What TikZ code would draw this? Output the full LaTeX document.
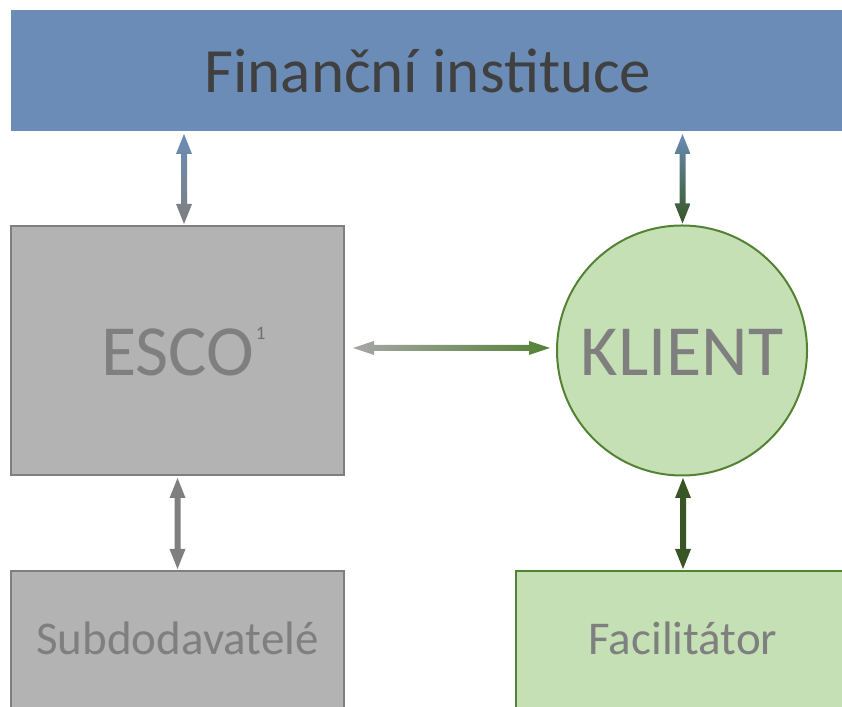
\documentclass[tikz,border=0pt]{standalone}
\usepackage{fontspec}
\setmainfont{Carlito}
\usetikzlibrary{calc}
\definecolor{finblue}{HTML}{6A8CB6}
\definecolor{titlegray}{HTML}{404040}
\definecolor{boxgray}{HTML}{B3B3B3}
\definecolor{linegray}{HTML}{7F7F7F}
\definecolor{supgray}{HTML}{707070}
\definecolor{lightgreen}{HTML}{C5E0B4}
\definecolor{midgreen}{HTML}{548235}
\definecolor{darkgreen}{HTML}{375623}
\definecolor{arrgray}{HTML}{A6A6A6}
\newcommand\vdarrow[3]{%
  \shade[#1] let \p1=(#2), \p2=(#3) in
    (\p1) -- (\x1+8pt,\y1-20pt) -- (\x1+3pt,\y1-20pt) -- (\x2+3pt,\y2+20pt)
    -- (\x2+8pt,\y2+20pt) -- (\p2) -- (\x2-8pt,\y2+20pt) -- (\x2-3pt,\y2+20pt)
    -- (\x1-3pt,\y1-20pt) -- (\x1-8pt,\y1-20pt) -- cycle;}
\newcommand\hdarrow[3]{%
  \shade[#1] let \p1=(#2), \p2=(#3) in
    (\p1) -- (\x1+21pt,\y1+7pt) -- (\x1+21pt,\y1+3pt) -- (\x2-21pt,\y2+3pt)
    -- (\x2-21pt,\y2+7pt) -- (\p2) -- (\x2-21pt,\y2-7pt) -- (\x2-21pt,\y2-3pt)
    -- (\x1+21pt,\y1-3pt) -- (\x1+21pt,\y1-7pt) -- cycle;}
\tikzset{
  boxbase/.style={rectangle, inner sep=0pt, line width=2pt},
  grayblock/.style={boxbase, fill=boxgray, draw=linegray, text=linegray},
  greenblock/.style={boxbase, fill=lightgreen, draw=midgreen, text=linegray},
}
\begin{document}
\begin{tikzpicture}[x=1pt,y=1pt]
\useasboundingbox (0,0) rectangle (842,706);
\clip (0,0) rectangle (842,706);
\node[boxbase, fill=finblue, minimum width=834pt, minimum height=121pt,
      text=titlegray, font=\fontsize{63}{70}\selectfont, text height=45pt, text depth=0pt]
      (fin) at (428,635.5) {Finanční instituce};
\node[grayblock, minimum width=333pt, minimum height=249pt,
      font=\fontsize{72}{80}\selectfont, text height=51pt, text depth=0pt]
      (esco) at (177.5,355.5) {ESCO\rlap{\kern2pt\raisebox{36pt}{\color{supgray}\fontsize{19}{20}\selectfont 1}}};
\node[circle, inner sep=0pt, line width=2pt, fill=lightgreen, draw=midgreen, text=linegray,
      minimum size=250pt, font=\fontsize{72}{80}\selectfont, text height=51pt, text depth=0pt]
      (klient) at (682,355.5) {KLIENT};
\node[grayblock, minimum width=333pt, minimum height=149pt,
      font=\fontsize{47}{52}\selectfont, text height=17pt, text depth=0pt]
      (sub) at (177.5,60.5) {Subdodavatelé};
\node[greenblock, minimum width=334pt, minimum height=149pt,
      font=\fontsize{47}{52}\selectfont, text height=17pt, text depth=0pt]
      (fac) at (683,60.5) {Facilitátor};
% connectors
\coordinate (a1t) at ($(fin.south -| esco.north)+(6.5,-2)$);
\coordinate (a1b) at ($(esco.north)+(6.5,1)$);
\vdarrow{top color=finblue, bottom color=linegray}{a1t}{a1b}
\coordinate (a2t) at ($(fin.south -| klient.north)+(0.5,-2)$);
\coordinate (a2b) at ($(klient.north)+(0.5,1)$);
\vdarrow{top color=finblue, bottom color=darkgreen}{a2t}{a2b}
\coordinate (a3l) at ($(esco.east)+(8,2.5)$);
\coordinate (a3r) at ($(klient.west)+(-6,2.5)$);
\hdarrow{left color=arrgray, right color=midgreen}{a3l}{a3r}
\coordinate (a4t) at ($(esco.south)+(0,-2)$);
\coordinate (a4b) at ($(sub.north)+(0,1)$);
\vdarrow{top color=linegray, bottom color=linegray}{a4t}{a4b}
\coordinate (a5t) at ($(klient.south)+(1,-1.5)$);
\coordinate (a5b) at ($(fac.north)+(0,1)$);
\vdarrow{top color=darkgreen, bottom color=darkgreen}{a5t}{a5b}
\end{tikzpicture}
\end{document}
